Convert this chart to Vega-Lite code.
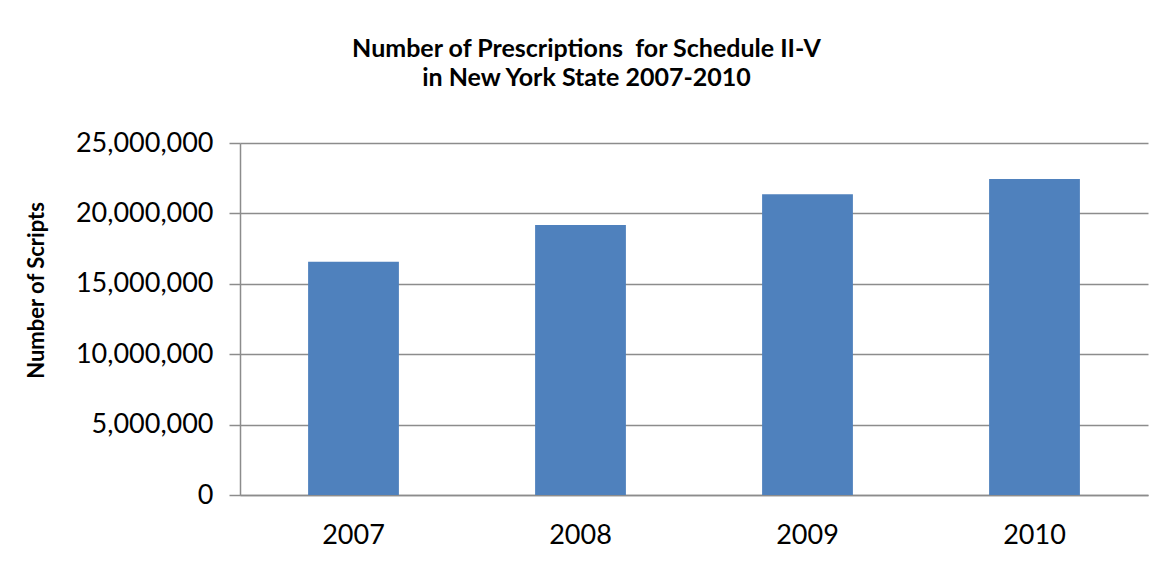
{
  "$schema": "https://vega.github.io/schema/vega-lite/v6.json",
  "autosize": {"type": "none"},
  "padding": {"left": 240, "top": 143, "right": 23, "bottom": 80},
  "width": 908,
  "height": 352,
  "background": "white",
  "title": {
    "text": ["Number of Prescriptions\u00a0 for Schedule II-V", "in New York State 2007-2010"],
    "font": "Lato",
    "fontSize": 25,
    "fontWeight": "bold",
    "color": "#000000",
    "anchor": "middle",
    "frame": "bounds",
    "lineHeight": 29,
    "offset": 38
  },
  "data": {
    "values": [
      {"year": "2007", "scripts": 16570000},
      {"year": "2008", "scripts": 19180000},
      {"year": "2009", "scripts": 21360000},
      {"year": "2010", "scripts": 22440000}
    ]
  },
  "mark": {"type": "bar", "color": "#4F81BD"},
  "encoding": {
    "x": {
      "field": "year",
      "type": "nominal",
      "scale": {"paddingInner": 0.6, "paddingOuter": 0.3},
      "axis": {
        "title": null,
        "labelAngle": 0,
        "labelFont": "Lato",
        "labelFontSize": 27,
        "labelColor": "#000000",
        "labelPadding": 27,
        "ticks": false,
        "domainColor": "#8c8c8c",
        "domainWidth": 1.5
      }
    },
    "y": {
      "field": "scripts",
      "type": "quantitative",
      "scale": {"domain": [0, 25000000], "nice": false},
      "axis": {
        "title": "Number of Scripts",
        "titleFont": "Lato",
        "titleFontSize": 22,
        "titleFontWeight": "bold",
        "titleColor": "#000000",
        "titleX": -192,
        "titleY": 147,
        "values": [0, 5000000, 10000000, 15000000, 20000000, 25000000],
        "format": ",d",
        "labelFont": "Lato",
        "labelFontSize": 27,
        "labelColor": "#000000",
        "labelPadding": 16,
        "tickSize": 11,
        "tickColor": "#8c8c8c",
        "tickWidth": 1.5,
        "domainColor": "#8c8c8c",
        "domainWidth": 1.5,
        "grid": true,
        "gridColor": "#8c8c8c",
        "gridWidth": 1.5
      }
    }
  },
  "config": {
    "view": {"stroke": null}
  }
}
